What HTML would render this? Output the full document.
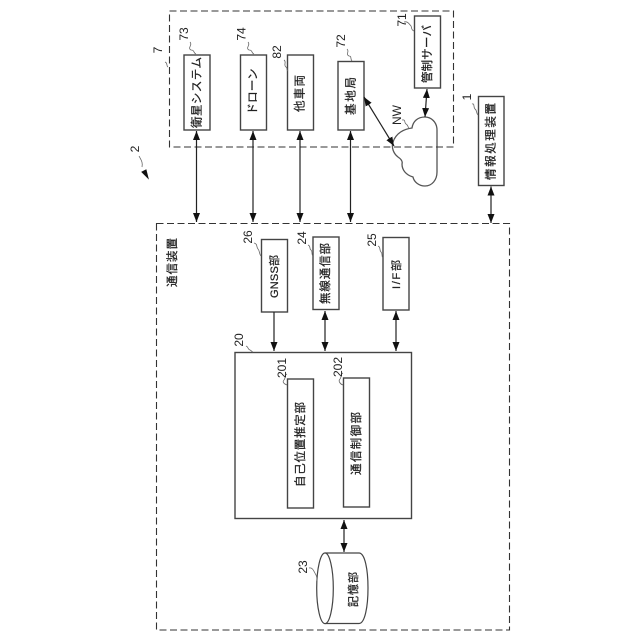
<!DOCTYPE html>
<html>
<head>
<meta charset="utf-8">
<style>
html,body{margin:0;padding:0;background:#fff}
svg{display:block}
text{font-family:"Liberation Sans","Noto Sans CJK JP",sans-serif;fill:#222;dominant-baseline:central;text-anchor:middle}
.l text{font-size:11.5px;stroke:#222;stroke-width:.25}
.n text{font-size:12px}
.b{fill:#fff;stroke:#444;stroke-width:1.4}
.d{fill:none;stroke:#333;stroke-width:1.1;stroke-dasharray:7 3.5}
.a{stroke:#222;stroke-width:1.2;fill:none}
.q{stroke:#666;stroke-width:.8;fill:none}
</style>
</head>
<body>
<svg width="640" height="640" viewBox="0 0 640 640" xmlns="http://www.w3.org/2000/svg">
<defs>
<marker id="h" viewBox="0 0 10 10" refX="10" refY="5" markerWidth="9" markerHeight="7" orient="auto" markerUnits="userSpaceOnUse" preserveAspectRatio="none"><path d="M0 0L10 5L0 10z" fill="#111"/></marker>
<marker id="t" viewBox="0 0 10 10" refX="0" refY="5" markerWidth="9" markerHeight="7" orient="auto" markerUnits="userSpaceOnUse" preserveAspectRatio="none"><path d="M10 0L0 5L10 10z" fill="#111"/></marker>
</defs>

<path d="M437 172V130C437 122 431 117 425 117C418 117 413 121 412 128C404 129 396 133 393 142C391 148 394 154 398 157C401 159 403 161 402 164C402 170 406 175 413 177C414 182 419 186 425 186C432 186 437 180 437 172Z" fill="#fff" stroke="#555" stroke-width="1.3"/>

<rect class="d" x="169.5" y="11" width="284" height="136"/>
<rect class="d" x="156.5" y="223.5" width="353" height="406.5"/>

<rect class="b" x="184" y="55" width="26" height="75"/>
<rect class="b" x="240.5" y="55" width="26" height="75"/>
<rect class="b" x="287.5" y="55" width="26" height="75"/>
<rect class="b" x="338" y="61.5" width="26" height="68.5"/>
<rect class="b" x="414.5" y="16" width="26" height="72"/>
<rect class="b" x="478.5" y="96.5" width="25.5" height="89"/>
<rect class="b" x="261.5" y="239.5" width="26" height="72.5"/>
<rect class="b" x="313" y="237" width="26" height="72.5"/>
<rect class="b" x="383" y="237.5" width="26" height="72.5"/>
<rect class="b" x="235" y="352.5" width="176.5" height="166"/>
<rect class="b" x="287.5" y="379" width="26" height="129"/>
<rect class="b" x="343.5" y="378" width="26" height="129"/>

<path d="M325 553H359C365 553 368 570 368 588C368 606 365 623.5 359 623.5H325" fill="#fff" stroke="#444" stroke-width="1.2"/>
<ellipse cx="325" cy="588.3" rx="8.3" ry="35.3" fill="#fff" stroke="#444" stroke-width="1.2"/>

<line class="a" x1="196.5" y1="131" x2="196.5" y2="222" marker-start="url(#t)" marker-end="url(#h)"/>
<line class="a" x1="253" y1="131" x2="253" y2="222" marker-start="url(#t)" marker-end="url(#h)"/>
<line class="a" x1="300" y1="131" x2="300" y2="222" marker-start="url(#t)" marker-end="url(#h)"/>
<line class="a" x1="350.5" y1="131" x2="350.5" y2="222" marker-start="url(#t)" marker-end="url(#h)"/>
<line class="a" x1="491" y1="186.5" x2="491" y2="223" marker-start="url(#t)" marker-end="url(#h)"/>
<line class="a" x1="427" y1="89" x2="425" y2="117" marker-start="url(#t)" marker-end="url(#h)"/>
<line class="a" x1="364" y1="97" x2="394" y2="146" marker-start="url(#t)" marker-end="url(#h)"/>
<line class="a" x1="274" y1="312" x2="274" y2="351" marker-end="url(#h)"/>
<line class="a" x1="325" y1="311" x2="325" y2="351" marker-start="url(#t)" marker-end="url(#h)"/>
<line class="a" x1="396" y1="311" x2="396" y2="351" marker-start="url(#t)" marker-end="url(#h)"/>
<line class="a" x1="344" y1="520" x2="344" y2="552" marker-start="url(#t)" marker-end="url(#h)"/>

<path class="q" d="M190 42C193 45 187 48 191 50C195 50 193 53 196 54"/>
<path class="q" d="M248 42C251 45 245 48 249 50C253 50 251 53 254 54"/>
<path class="q" d="M284 60C287 62 283 65 286 67C288 68 286 70 288 71"/>
<path class="q" d="M347 49C350 52 345 54 349 56C352 56 350 59 352 61"/>
<path class="q" d="M404 22C408 21 409 24 411 26C412 28 411 30 414 31"/>
<path class="q" d="M472 104C475 103 473 107 475 109C477 110 476 113 478 115"/>
<path class="q" d="M402 120C406 119 404 123 406 124C408 125 408 127 409 129"/>
<path class="q" d="M254 243C258 244 256 247 258 249C260 251 259 254 261 256"/>
<path class="q" d="M308 245C311 246 309 249 311 250C313 252 311 254 313 256"/>
<path class="q" d="M378 246C381 247 379 250 381 252C383 254 381 256 383 258"/>
<path class="q" d="M246 346C249 347 247 349 250 350C252 351 252 352 253 352"/>
<path class="q" d="M287 374C284 375 286 378 284 380C282 382 284 384 287 385"/>
<path class="q" d="M343 373C340 374 342 377 340 379C338 381 340 384 343 385"/>
<path class="q" d="M309 568C313 567 314 572 316 575C317 577 317 579 317 581"/>
<path class="q" d="M165 62C168 63 166 66 168 67"/>
<path class="q" d="M139 156C141 160 143 162 142 167"/>
<path d="M148 178L142 172L146 170z" fill="#111" stroke="#111" stroke-width="1"/>

<g class="l">
<text transform="translate(197.5 92.5) rotate(-90)" textLength="71" lengthAdjust="spacing">衛星システム</text>
<text transform="translate(253.5 91.5) rotate(-90)" textLength="46" lengthAdjust="spacing">ドローン</text>
<text transform="translate(300.5 93.5) rotate(-90)" textLength="37" lengthAdjust="spacing">他車両</text>
<text transform="translate(351.5 96) rotate(-90)" textLength="38" lengthAdjust="spacing">基地局</text>
<text transform="translate(428 54) rotate(-90)" textLength="58" lengthAdjust="spacing">管制サーバ</text>
<text transform="translate(491.5 141.5) rotate(-90)" textLength="77" lengthAdjust="spacing">情報処理装置</text>
<text transform="translate(173 262.5) rotate(-90)" textLength="49" lengthAdjust="spacing">通信装置</text>
<text transform="translate(275 276.5) rotate(-90)" style="font-size:11px" textLength="43" lengthAdjust="spacing">GNSS部</text>
<text transform="translate(326 273.5) rotate(-90)" textLength="61" lengthAdjust="spacing">無線通信部</text>
<text transform="translate(397 274.5) rotate(-90)" style="font-size:11px" textLength="29" lengthAdjust="spacing">I/F部</text>
<text transform="translate(301 444.5) rotate(-90)" textLength="85" lengthAdjust="spacing">自己位置推定部</text>
<text transform="translate(357 443.5) rotate(-90)" textLength="63" lengthAdjust="spacing">通信制御部</text>
<text transform="translate(354 589.5) rotate(-90)" style="font-size:11px" textLength="35" lengthAdjust="spacing">記憶部</text>
</g>
<g class="n">
<text transform="translate(184 34) rotate(-90)">73</text>
<text transform="translate(241.5 34) rotate(-90)">74</text>
<text transform="translate(277 52) rotate(-90)">82</text>
<text transform="translate(341 41) rotate(-90)">72</text>
<text transform="translate(158 50) rotate(-90)">7</text>
<text transform="translate(135 149) rotate(-90)">2</text>
<text transform="translate(402 20) rotate(-90)">71</text>
<text transform="translate(467 97) rotate(-90)">1</text>
<text transform="translate(397 115) rotate(-90)">NW</text>
<text transform="translate(248 237) rotate(-90)">26</text>
<text transform="translate(302 238) rotate(-90)">24</text>
<text transform="translate(372 240) rotate(-90)">25</text>
<text transform="translate(239 340) rotate(-90)">20</text>
<text transform="translate(282 368) rotate(-90)">201</text>
<text transform="translate(338 367) rotate(-90)">202</text>
<text transform="translate(303 567) rotate(-90)">23</text>
</g>
</svg>
</body>
</html>
